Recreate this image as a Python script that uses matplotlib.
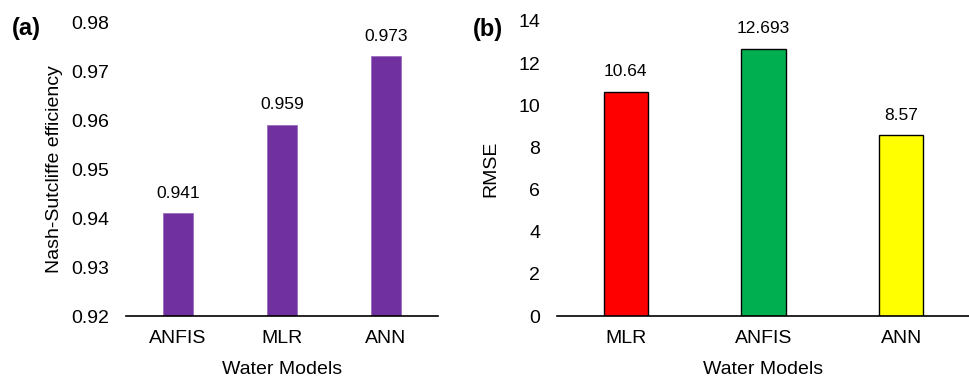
import matplotlib.pyplot as plt

plt.rcParams['font.family'] = ['Liberation Sans', 'DejaVu Sans']

# panel (a) data
nse_models = ["ANFIS", "MLR", "ANN"]
nse_values = [0.941, 0.959, 0.973]
nse_labels = ["0.941", "0.959", "0.973"]

# panel (b) data
rmse_models = ["MLR", "ANFIS", "ANN"]
rmse_values = [10.64, 12.693, 8.57]
rmse_labels = ["10.64", "12.693", "8.57"]
rmse_colors = ["#FF0000", "#00B050", "#FFFF00"]

fig = plt.figure(figsize=(9.7, 3.77), dpi=100)
ax1 = fig.add_axes([0.1299, 0.1618, 0.3216, 0.7798])
ax2 = fig.add_axes([0.5742, 0.1618, 0.4258, 0.7825])


def style(ax):
    for s in ["top", "right", "left"]:
        ax.spines[s].set_visible(False)
    ax.spines["bottom"].set_linewidth(1.2)
    ax.tick_params(axis="y", length=0, labelsize=14, pad=12)
    ax.tick_params(axis="x", length=0, labelsize=14, pad=10)
    ax.set_xlabel("Water Models", fontsize=14, labelpad=10)


# (a) Nash-Sutcliffe efficiency
x1 = range(len(nse_models))
ax1.bar(x1, [v - 0.92 for v in nse_values], bottom=0.92, width=0.28,
        color="#7030A0", edgecolor="#9B6FC0", linewidth=0.6)
for i, v in enumerate(nse_values):
    ax1.annotate(nse_labels[i], (i, v), xytext=(0, 9), textcoords="offset points",
                 ha="center", va="bottom", fontsize=12.5)
ax1.set_xlim(-0.5, 2.5)
ax1.set_ylim(0.92, 0.98)
ax1.set_yticks([0.92, 0.93, 0.94, 0.95, 0.96, 0.97, 0.98])
ax1.set_yticklabels(["0.92", "0.93", "0.94", "0.95", "0.96", "0.97", "0.98"])
ax1.set_xticks(list(x1))
ax1.set_xticklabels(nse_models)
style(ax1)
ax1.set_ylabel("Nash-Sutcliffe efficiency", fontsize=14, labelpad=6)

# (b) RMSE
x2 = range(len(rmse_models))
ax2.bar(x2, rmse_values, width=0.32, color=rmse_colors, edgecolor="black", linewidth=1.0)
for i, v in enumerate(rmse_values):
    ax2.annotate(rmse_labels[i], (i, v), xytext=(0, 9), textcoords="offset points",
                 ha="center", va="bottom", fontsize=12.5)
ax2.set_xlim(-0.5, 2.5)
ax2.set_ylim(0, 14)
ax2.set_yticks(range(0, 15, 2))
ax2.set_xticks(list(x2))
ax2.set_xticklabels(rmse_models)
style(ax2)
ax2.set_ylabel("RMSE", fontsize=14, labelpad=14)

fig.text(0.012, 0.925, "(a)", fontsize=17, fontweight="bold", va="center")
fig.text(0.487, 0.922, "(b)", fontsize=17, fontweight="bold", va="center")

fig.savefig("out.png", dpi=100)
